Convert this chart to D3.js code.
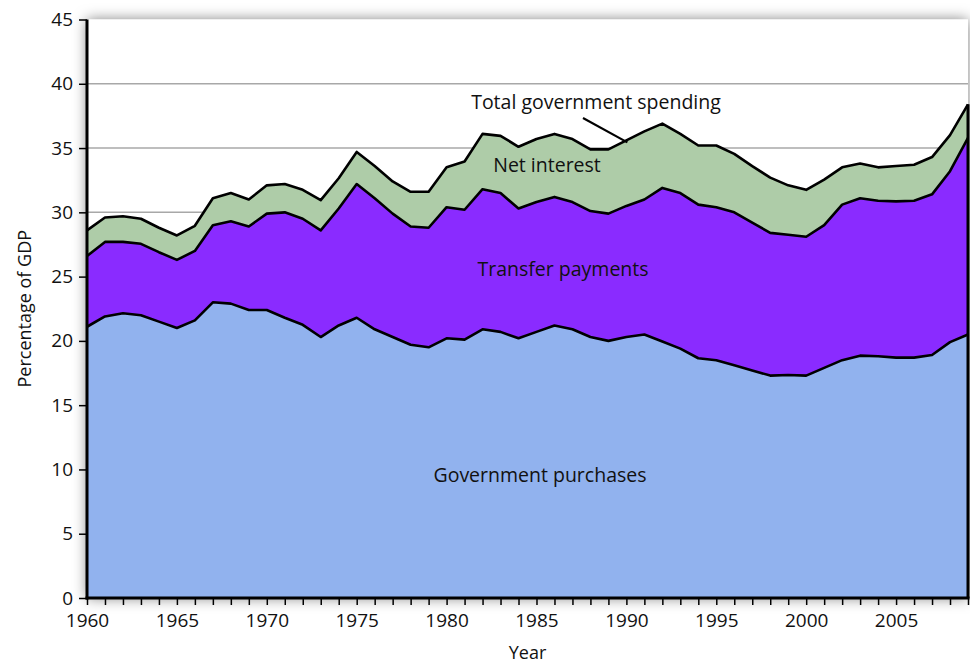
<!DOCTYPE html>
<html><head><meta charset="utf-8">
<script src="https://cdn.jsdelivr.net/npm/d3@7"></script>
<style>
html,body{margin:0;padding:0;background:#fff;}
svg{display:block;font-family:"Open Sans","Noto Sans",sans-serif;}
</style></head>
<body>
<svg id="chart" width="970" height="664"></svg>
<script>
const years = d3.range(1960, 2010);
const governmentPurchases = [21.1,21.9,22.15,22.0,21.5,21.0,21.6,23.0,22.9,22.4,
  22.4,21.8,21.25,20.3,21.2,21.8,20.9,20.3,19.7,19.5,
  20.2,20.1,20.9,20.7,20.2,20.7,21.2,20.9,20.3,20.0,
  20.3,20.5,19.95,19.4,18.65,18.5,18.1,17.7,17.3,17.35,
  17.3,17.9,18.5,18.85,18.8,18.7,18.7,18.9,19.9,20.5];
const transferPayments = [5.5,5.8,5.55,5.55,5.4,5.3,5.4,6.0,6.4,6.5,
  7.5,8.2,8.25,8.3,9.1,10.4,10.2,9.6,9.2,9.3,
  10.2,10.1,10.9,10.8,10.1,10.1,10.0,9.9,9.8,9.9,
  10.2,10.5,11.95,12.1,11.95,11.9,11.9,11.5,11.1,10.9,
  10.8,11.1,12.1,12.25,12.1,12.15,12.2,12.5,13.3,15.3];
const netInterest = [2.0,1.9,2.0,1.95,1.9,1.9,1.95,2.1,2.2,2.1,
  2.2,2.2,2.25,2.35,2.35,2.5,2.5,2.5,2.7,2.8,
  3.1,3.75,4.3,4.45,4.8,4.9,4.9,4.9,4.8,5.0,
  5.1,5.3,5.0,4.6,4.6,4.8,4.55,4.4,4.3,3.85,
  3.65,3.55,2.9,2.7,2.6,2.75,2.8,2.9,2.8,2.6];
const seriesKeys = ["Government purchases","Transfer payments","Net interest"];
const seriesColors = ["#91b2ee","#8a2bff","#aecca8"];
const yTicks = [0,5,10,15,20,25,30,35,40,45];
const xTickLabels = [1960,1965,1970,1975,1980,1985,1990,1995,2000,2005];

const rows = years.map((y,i)=>({year:y,
  "Government purchases":governmentPurchases[i],
  "Transfer payments":transferPayments[i],
  "Net interest":netInterest[i]}));

const svg = d3.select("#chart");
const L = 87, R = 968, T = 19.5, B = 598;
const x = d3.scaleLinear().domain([1960,2009]).range([L,R]);
const y = d3.scaleLinear().domain([0,45]).range([B,T]);

const defs = svg.append("defs");
const f = defs.append("filter").attr("id","shadow").attr("x","-10%").attr("y","-10%").attr("width","120%").attr("height","120%");
f.append("feDropShadow").attr("dx",0).attr("dy",0).attr("stdDeviation",7).attr("flood-color","#000").attr("flood-opacity",0.5);

svg.append("rect").attr("x",L).attr("y",T).attr("width",R-L).attr("height",B-T)
  .attr("fill","#fff").attr("filter","url(#shadow)");

// gridlines
svg.append("g").selectAll("line").data(yTicks.filter(d=>d>0 && d<45)).join("line")
  .attr("x1",L).attr("x2",R).attr("y1",d=>y(d)).attr("y2",d=>y(d))
  .attr("stroke","#a8a8a8").attr("stroke-width",1.5);

const stack = d3.stack().keys(seriesKeys);
const layers = stack(rows);
const area = d3.area().x(d=>x(d.data.year)).y0(d=>y(d[0])).y1(d=>y(d[1]));
const topLine = d3.line().x(d=>x(d.data.year)).y(d=>y(d[1]));

svg.append("g").selectAll("path").data(layers).join("path")
  .attr("d",area).attr("fill",(d,i)=>seriesColors[i]);
svg.append("g").selectAll("path").data(layers).join("path")
  .attr("d",topLine).attr("fill","none").attr("stroke","#000")
  .attr("stroke-width",2.6).attr("stroke-linejoin","round");

// right edge of areas
const last = layers[2][layers[2].length-1];
svg.append("line").attr("x1",x(2009)).attr("x2",x(2009)).attr("y1",y(last[1])).attr("y2",y(0))
  .attr("stroke","#000").attr("stroke-width",3);

// axes
const yAxis = d3.axisLeft(y).tickValues(yTicks).tickSize(8).tickPadding(6);
const gy = svg.append("g").attr("transform",`translate(${L},0)`).call(yAxis);
gy.select(".domain").remove();
gy.selectAll(".tick line").attr("stroke","#000").attr("stroke-width",1.5);
gy.selectAll("text").attr("font-size",19).attr("fill","#111").attr("font-family",'"Open Sans",sans-serif');

const xAxis = d3.axisBottom(x).tickValues(years).tickSize(7).tickPadding(9)
  .tickFormat(d=>xTickLabels.includes(d)?d:"");
const gx = svg.append("g").attr("transform",`translate(0,${B})`).call(xAxis);
gx.select(".domain").remove();
gx.selectAll(".tick line").attr("stroke","#000").attr("stroke-width",1.5);
gx.selectAll("text").attr("font-size",19).attr("fill","#111").attr("font-family",'"Open Sans",sans-serif');

svg.append("line").attr("x1",L).attr("x2",L).attr("y1",T).attr("y2",B+1.5)
  .attr("stroke","#000").attr("stroke-width",3);
svg.append("line").attr("x1",L-1.5).attr("x2",R+1.5).attr("y1",B).attr("y2",B)
  .attr("stroke","#000").attr("stroke-width",3);

// axis titles
svg.append("text").attr("x",(L+R)/2).attr("y",659).attr("text-anchor","middle")
  .attr("font-size",18).attr("fill","#111").text("Year");
svg.append("text").attr("transform",`translate(31,${(T+B)/2}) rotate(-90)`).attr("text-anchor","middle")
  .attr("font-size",18).attr("fill","#111").text("Percentage of GDP");

// annotations
const ann = svg.append("g").attr("font-size",19.5).attr("fill","#111").attr("text-anchor","middle");
ann.append("text").attr("x",596).attr("y",109).text("Total government spending");
ann.append("text").attr("x",547).attr("y",172).text("Net interest");
ann.append("text").attr("x",563).attr("y",276).text("Transfer payments");
ann.append("text").attr("x",540).attr("y",482).text("Government purchases");
svg.append("line").attr("x1",583).attr("y1",118).attr("x2",x(1990)+1).attr("y2",y(d3.sum([governmentPurchases[30],transferPayments[30],netInterest[30]]))+2)
  .attr("stroke","#000").attr("stroke-width",2.2);
</script>
</body></html>
